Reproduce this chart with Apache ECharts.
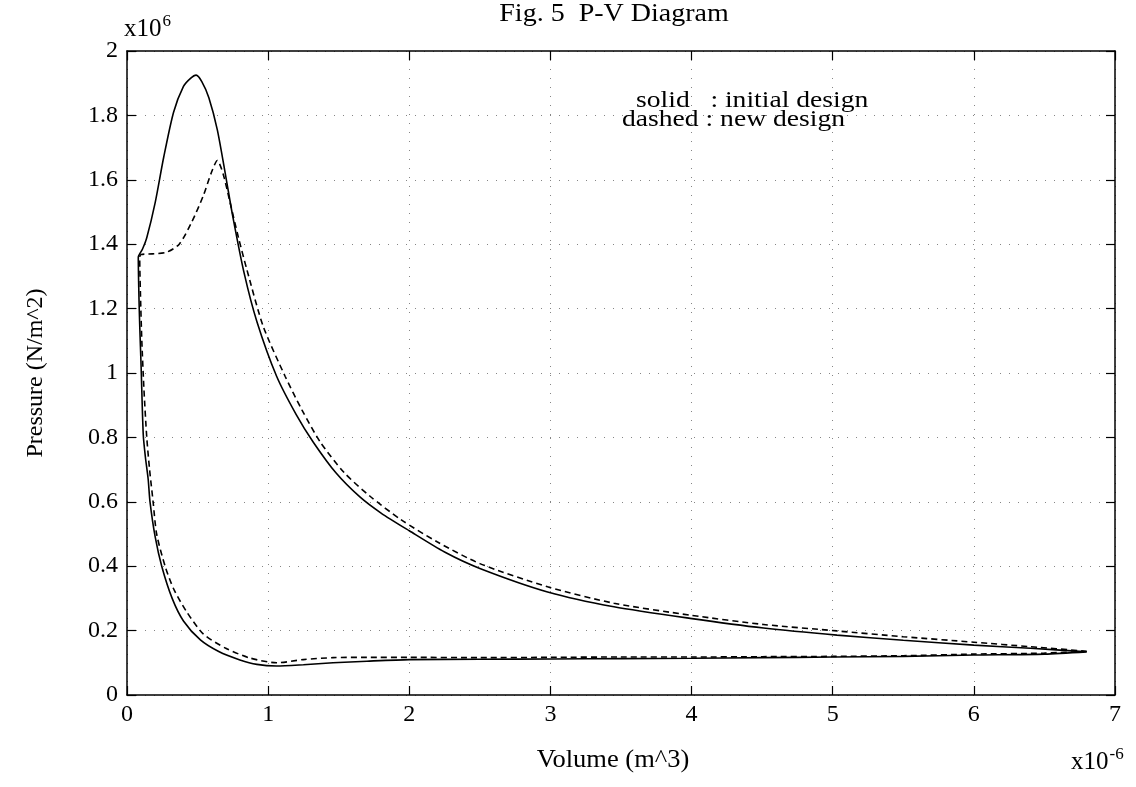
<!DOCTYPE html>
<html>
<head>
<meta charset="utf-8">
<script src="https://cdn.jsdelivr.net/npm/echarts@6/dist/echarts.min.js"></script>
<style>
html,body{margin:0;padding:0;background:#fff;}
#chart{width:1136px;height:787px;}
</style>
</head>
<body>
<div id="chart"></div>
<script>
// Volume in units of 1e-6 m^3, pressure in units of 1e6 N/m^2
const solidV = [6.80, 6.50, 6.00, 5.50, 5.00, 4.50, 4.00, 3.50, 3.00, 2.50, 2.00, 1.70, 1.46, 1.25, 1.06, 0.92, 0.80, 0.65, 0.52, 0.40, 0.32, 0.246, 0.20, 0.163, 0.15, 0.13, 0.115, 0.10, 0.09, 0.085, 0.08,
  0.09, 0.11, 0.14, 0.20, 0.26, 0.33, 0.40, 0.45, 0.49, 0.53, 0.58, 0.64, 0.70, 0.75, 0.83, 0.92, 1.06, 1.20, 1.32, 1.48, 1.65, 1.80, 2.00, 2.25, 2.50, 2.98, 3.45, 3.99, 4.51, 5.03, 5.50, 6.00, 6.40, 6.80];
const solidP = [0.134, 0.127, 0.124, 0.120, 0.118, 0.116, 0.114, 0.113, 0.112, 0.111, 0.110, 0.105, 0.100, 0.094, 0.090, 0.095, 0.109, 0.135, 0.171, 0.23, 0.30, 0.40, 0.49, 0.60, 0.67, 0.74, 0.81, 1.02, 1.15, 1.23, 1.36,
  1.37, 1.385, 1.42, 1.53, 1.67, 1.81, 1.89, 1.915, 1.925, 1.905, 1.855, 1.755, 1.61, 1.485, 1.31, 1.16, 0.99, 0.87, 0.785, 0.69, 0.615, 0.565, 0.51, 0.444, 0.393, 0.32, 0.274, 0.238, 0.208, 0.186, 0.170, 0.155, 0.145, 0.134];

const dashedV = [6.80, 6.50, 6.00, 5.50, 5.00, 4.50, 4.00, 3.50, 3.00, 2.50, 2.00, 1.70, 1.46, 1.25, 1.06, 0.87, 0.70, 0.54, 0.42, 0.33, 0.27, 0.21, 0.185, 0.16, 0.14, 0.12, 0.105, 0.095, 0.09,
  0.10, 0.18, 0.28, 0.37, 0.46, 0.54, 0.60, 0.64, 0.68, 0.73, 0.79, 0.85, 0.965, 1.12, 1.24, 1.37, 1.54, 1.72, 1.94, 2.20, 2.50, 2.98, 3.45, 3.99, 4.51, 5.03, 5.50, 6.00, 6.40, 6.80];
const dashedP = [0.136, 0.130, 0.127, 0.122, 0.120, 0.119, 0.118, 0.118, 0.117, 0.116, 0.117, 0.117, 0.116, 0.110, 0.100, 0.115, 0.145, 0.19, 0.26, 0.33, 0.40, 0.50, 0.60, 0.70, 0.80, 0.95, 1.10, 1.25, 1.36,
  1.368, 1.37, 1.375, 1.40, 1.47, 1.55, 1.625, 1.66, 1.62, 1.53, 1.42, 1.32, 1.145, 0.99, 0.885, 0.785, 0.69, 0.618, 0.545, 0.475, 0.408, 0.336, 0.285, 0.248, 0.219, 0.199, 0.181, 0.164, 0.150, 0.136];

const xTickLabels = ['0', '1', '2', '3', '4', '5', '6', '7'];
const yTickLabels = ['0', '0.2', '0.4', '0.6', '0.8', '1', '1.2', '1.4', '1.6', '1.8', '2'];

const titleText = 'Fig. 5  P-V Diagram';
const xName = 'Volume (m^3)';
const yName = 'Pressure (N/m^2)';
const legendLines = ['solid   : initial design', 'dashed : new design'];

const FONT = '"Liberation Serif", "Times New Roman", serif';

const chart = echarts.init(document.getElementById('chart'), null, {renderer: 'canvas'});

const zip = (a, b) => a.map((v, i) => [v, b[i]]);

const gridStyle = {show: true, lineStyle: {color: '#333', width: 1, type: [1, 8], opacity: 0.6}};
const axisLineStyle = {show: true, onZero: false, lineStyle: {color: '#000', width: 1.5}};
const tickStyle = {show: true, inside: true, length: 9, lineStyle: {color: '#000', width: 1.2}};

const option = {
  backgroundColor: '#fff',
  animation: false,
  grid: {left: 127, right: 21, top: 51, bottom: 92, containLabel: false},
  xAxis: [{
    type: 'value', min: 0, max: 7, interval: 1, position: 'bottom',
    axisLine: axisLineStyle, axisTick: tickStyle,
    axisLabel: {show: true, margin: 8, color: '#000', fontFamily: FONT, fontSize: 24,
      formatter: (v) => xTickLabels[Math.round(v)]},
    splitLine: gridStyle
  }, {
    type: 'value', min: 0, max: 7, interval: 1, position: 'top',
    axisLine: axisLineStyle, axisTick: tickStyle,
    axisLabel: {show: false}, splitLine: {show: false}
  }],
  yAxis: [{
    type: 'value', min: 0, max: 2, interval: 0.2, position: 'left',
    axisLine: axisLineStyle, axisTick: tickStyle,
    axisLabel: {show: true, margin: 9, color: '#000', fontFamily: FONT, fontSize: 24,
      formatter: (v) => yTickLabels[Math.round(v / 0.2)]},
    splitLine: gridStyle
  }, {
    type: 'value', min: 0, max: 2, interval: 0.2, position: 'right',
    axisLine: axisLineStyle, axisTick: tickStyle,
    axisLabel: {show: false}, splitLine: {show: false}
  }],
  series: [{
    name: 'initial design', type: 'line', xAxisIndex: 0, yAxisIndex: 0,
    data: zip(solidV, solidP), showSymbol: false, smooth: 0.25,
    lineStyle: {color: '#000', width: 1.6, type: 'solid'}
  }, {
    name: 'new design', type: 'line', xAxisIndex: 0, yAxisIndex: 0,
    data: zip(dashedV, dashedP), showSymbol: false, smooth: 0.25,
    lineStyle: {color: '#000', width: 1.6, type: [6, 4]}
  }],
  graphic: [
    {type: 'text', x: 614, y: 14, scaleX: 1.12, style: {text: titleText, font: '25px ' + FONT, fill: '#000', textAlign: 'center', textVerticalAlign: 'middle'}},
    {type: 'text', x: 124, y: 13, style: {
      text: '{a|x10}{b|6}', fill: '#000',
      rich: {a: {fontFamily: FONT, fontSize: 25, verticalAlign: 'bottom'}, b: {fontFamily: FONT, fontSize: 17, verticalAlign: 'top', padding: [0, 0, 12, 1]}}
    }},
    {type: 'text', x: 1071, y: 746, style: {
      text: '{a|x10}{b|-6}', fill: '#000',
      rich: {a: {fontFamily: FONT, fontSize: 25, verticalAlign: 'bottom'}, b: {fontFamily: FONT, fontSize: 17, verticalAlign: 'top', padding: [0, 0, 12, 1]}}
    }},
    {type: 'text', x: 613, y: 760, scaleX: 1.06, style: {text: xName, font: '25px ' + FONT, fill: '#000', textAlign: 'center', textVerticalAlign: 'middle'}},
    {type: 'text', x: 36, y: 373, rotation: Math.PI / 2, style: {text: yName, font: '24px ' + FONT, fill: '#000', textAlign: 'center', textVerticalAlign: 'middle'}},
    {type: 'text', x: 636, y: 101, scaleX: 1.2, style: {text: legendLines[0], font: '23px ' + FONT, fill: '#000', textVerticalAlign: 'middle'}},
    {type: 'text', x: 622, y: 120, scaleX: 1.2, style: {text: legendLines[1], font: '23px ' + FONT, fill: '#000', textVerticalAlign: 'middle'}}
  ]
};
chart.setOption(option);
</script>
</body>
</html>
